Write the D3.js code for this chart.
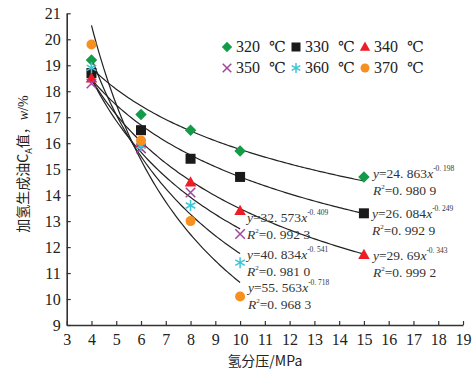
<!DOCTYPE html>
<html>
<head>
<meta charset="utf-8">
<script src="https://cdn.jsdelivr.net/npm/d3@7"></script>
<style>
  body { margin: 0; background: #fff; }
  svg { display: block; }
  svg text { font-family: 'Liberation Serif', 'DejaVu Serif', serif; }
  svg text.cjk { font-family: 'Noto Sans CJK SC', sans-serif; }
</style>
</head>
<body>
<div id="chart"></div>
<script>
// pressure (MPa) on x, CA value (w/%) on y
const pressures = [4, 6, 8, 10, 15];
const series = [
  { name: '320', values: [19.2, 17.1, 16.5, 15.7, 14.7] },
  { name: '330', values: [18.7, 16.5, 15.4, 14.7, 13.3] },
  { name: '340', values: [18.5, 16.0, 14.5, 13.4, 11.7] },
  { name: '350', values: [18.3, 15.8, 14.1, 12.5] },
  { name: '360', values: [18.9, 15.9, 13.6, 11.4] },
  { name: '370', values: [19.8, 16.1, 13.0, 10.1] }
];
// power fits y = a * x^b shown on the chart
const fitA = [24.863, 26.084, 29.69, 32.573, 40.834, 55.563];
const fitB = [-0.198, -0.249, -0.343, -0.409, -0.541, -0.718];
const fitR2 = ['0. 980 9', '0. 992 9', '0. 999 2', '0. 992 3', '0. 981 0', '0. 968 3'];
const fitText = ['24. 863', '26. 084', '29. 69', '32. 573', '40. 834', '55. 563'];
const fitExp = ['-0. 198', '-0. 249', '-0. 343', '-0. 409', '-0. 541', '-0. 718'];
const xTicks = d3.range(3, 20);
const yTicks = d3.range(9, 22);

const styles = [
  { color: '#129b48', shape: 'diamond' },
  { color: '#1a1a1a', shape: 'square' },
  { color: '#ee1c25', shape: 'triangle' },
  { color: '#a3459c', shape: 'cross' },
  { color: '#3ec6d6', shape: 'star' },
  { color: '#f7901e', shape: 'circle' }
];
// where each equation label sits (left x, baseline of first line)
const labelPos = [[373, 178], [372, 218], [373, 260], [247, 222], [247, 259], [248, 292]];

const width = 474, height = 375;
const margin = { top: 13.3, right: 11, bottom: 50, left: 66.7 };

const svg = d3.select('#chart').append('svg')
  .attr('width', width)
  .attr('height', height);

const x = d3.scaleLinear().domain([3, 19]).range([margin.left, width - margin.right]);
const y = d3.scaleLinear().domain([9, 21]).range([height - margin.bottom, margin.top]);

// axes
const xAxis = svg.append('g')
  .attr('transform', `translate(0, ${y(9)})`)
  .call(d3.axisBottom(x).tickValues(xTicks).tickSizeInner(-4).tickSizeOuter(0).tickPadding(9));
const yAxis = svg.append('g')
  .attr('transform', `translate(${x(3)}, 0)`)
  .call(d3.axisLeft(y).tickValues(yTicks).tickSizeInner(-4).tickSizeOuter(0).tickPadding(6));

[xAxis, yAxis].forEach(g => {
  g.attr('font-family', null);
  g.select('.domain').attr('stroke', '#333').attr('stroke-width', 1.6);
  g.selectAll('.tick line').attr('stroke', '#333').attr('stroke-width', 1.2);
  g.selectAll('.tick text')
    .attr('fill', '#222')
    .attr('font-size', '16px');
});

// fit curves
const line = d3.line().x(d => x(d[0])).y(d => y(d[1]));
series.forEach((s, i) => {
  const xEnd = pressures[s.values.length - 1];
  const pts = d3.range(4, xEnd + 0.001, 0.1).map(p => [p, fitA[i] * Math.pow(p, fitB[i])]);
  svg.append('path')
    .attr('d', line(pts))
    .attr('fill', 'none')
    .attr('stroke', '#222')
    .attr('stroke-width', 1.2);
});

function drawMarker(g, shape, color, cx, cy, r) {
  if (shape === 'diamond') {
    g.append('path')
      .attr('d', `M${cx},${cy - r * 1.15}L${cx + r * 1.15},${cy}L${cx},${cy + r * 1.15}L${cx - r * 1.15},${cy}Z`)
      .attr('fill', color);
  } else if (shape === 'square') {
    g.append('rect')
      .attr('x', cx - r).attr('y', cy - r)
      .attr('width', r * 2).attr('height', r * 2)
      .attr('fill', color);
  } else if (shape === 'triangle') {
    g.append('path')
      .attr('d', `M${cx},${cy - r * 1.2}L${cx + r * 1.15},${cy + r * 0.85}L${cx - r * 1.15},${cy + r * 0.85}Z`)
      .attr('fill', color);
  } else if (shape === 'circle') {
    g.append('circle')
      .attr('cx', cx).attr('cy', cy).attr('r', r)
      .attr('fill', color);
  } else if (shape === 'cross') {
    const k = r * 0.95;
    g.append('path')
      .attr('d', `M${cx - k},${cy - k}L${cx + k},${cy + k}M${cx - k},${cy + k}L${cx + k},${cy - k}`)
      .attr('stroke', color).attr('stroke-width', 1.5).attr('fill', 'none');
  } else if (shape === 'star') {
    const k = r * 1.1;
    let d = '';
    [90, 30, -30].forEach(a => {
      const rad = a * Math.PI / 180;
      d += `M${cx - k * Math.cos(rad)},${cy - k * Math.sin(rad)}L${cx + k * Math.cos(rad)},${cy + k * Math.sin(rad)}`;
    });
    g.append('path')
      .attr('d', d)
      .attr('stroke', color).attr('stroke-width', 1.5).attr('fill', 'none');
  }
}

// data points
const pointsG = svg.append('g');
series.forEach((s, i) => {
  s.values.forEach((v, j) => {
    drawMarker(pointsG, styles[i].shape, styles[i].color, x(pressures[j]), y(v), 5);
  });
});

// legend
const legendG = svg.append('g');
series.forEach((s, i) => {
  const col = i % 3, row = Math.floor(i / 3);
  const lx = 227 + col * 69, ly = 47 + row * 21;
  drawMarker(legendG, styles[i].shape, styles[i].color, lx, ly, 4.5);
  legendG.append('text')
    .attr('x', lx + 9).attr('y', ly + 5)
    .attr('font-size', '16px')
    .attr('fill', '#222')
    .text(s.name);
  legendG.append('text')
    .attr('x', lx + 42).attr('y', ly + 5)
    .attr('font-size', '15px')
    .attr('fill', '#222')
    .text('\u2103');
});

// equation labels
const eqG = svg.append('g')
  .attr('fill', '#333');
series.forEach((s, i) => {
  const [lx, ly] = labelPos[i];
  const t1 = eqG.append('text').attr('x', lx).attr('y', ly).attr('font-size', '13.5px');
  t1.append('tspan').attr('font-style', 'italic').text('y');
  t1.append('tspan').text('=' + fitText[i]);
  t1.append('tspan').attr('font-style', 'italic').text('x');
  t1.append('tspan').attr('dy', -7).attr('font-size', '7.5px').text(fitExp[i]);

  const t2 = eqG.append('text').attr('x', lx).attr('y', ly + 17).attr('font-size', '13.5px');
  t2.append('tspan').attr('font-style', 'italic').text('R');
  t2.append('tspan').attr('dy', -6).attr('font-size', '7px').text('2');
  t2.append('tspan').attr('dy', 6).text('=' + fitR2[i]);
});

// axis titles
svg.append('text')
  .attr('class', 'cjk')
  .attr('x', x(11)).attr('y', 366)
  .attr('text-anchor', 'middle')
  .attr('font-size', '14px')
  .attr('fill', '#222')
  .text('氢分压/MPa');

const yTitle = svg.append('text')
  .attr('class', 'cjk')
  .attr('transform', 'translate(28, 164) rotate(-90)')
  .attr('text-anchor', 'middle')
  .attr('font-size', '14px')
  .attr('fill', '#222');
yTitle.append('tspan').text('加氢生成油C');
yTitle.append('tspan').attr('dy', 4).attr('font-size', '9px').text('A');
yTitle.append('tspan').attr('dy', -4).text('值，');
yTitle.append('tspan').attr('font-family', 'Liberation Serif').attr('font-style', 'italic').text('w');
yTitle.append('tspan').attr('font-family', 'Liberation Serif').text('/%');
</script>
</body>
</html>
